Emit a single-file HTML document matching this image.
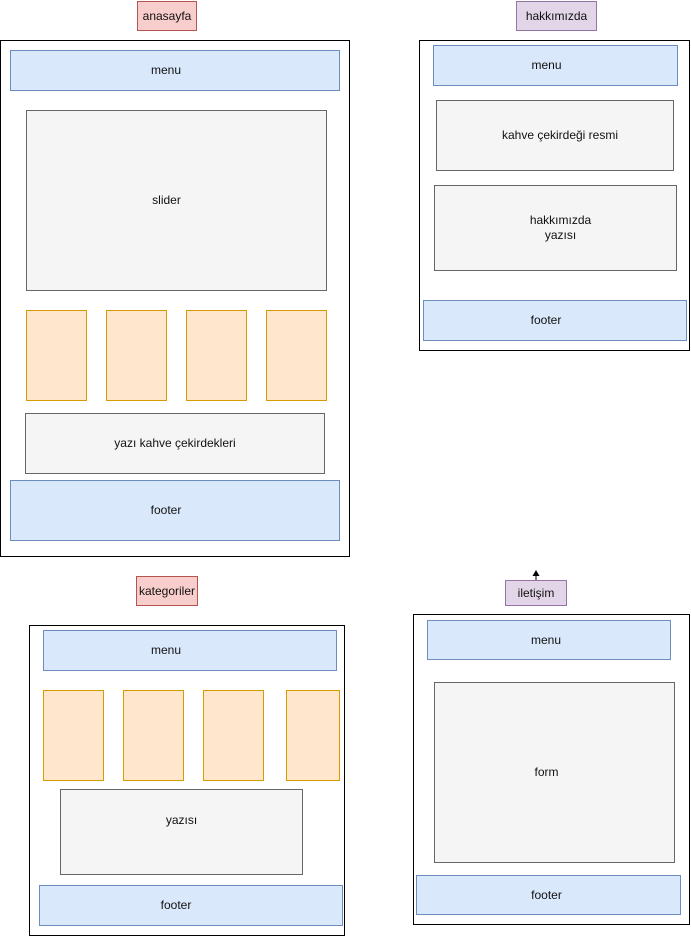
<!DOCTYPE html>
<html><head><meta charset="utf-8"><style>
html,body{margin:0;padding:0;background:#fff;width:691px;height:936px;overflow:hidden;position:relative;font-family:"Liberation Sans",Arial,sans-serif;font-size:12px;color:#111}
.b{position:absolute;box-sizing:border-box;display:flex;align-items:center;justify-content:center;text-align:center;line-height:15px}
.f{border:1px solid #000;background:transparent}
.bl{background:#dae8fc;border:1px solid #6c8ebf}
.gr{background:#f5f5f5;border:1px solid #666}
.or{background:#ffe6cc;border:1px solid #d79b00}
.pk{background:#f8cecc;border:1px solid #b85450}
.pu{background:#e1d5e7;border:1px solid #9673a6}
</style></head><body>
<div class="b pk" style="left:137px;top:1px;width:60px;height:30px">anasayfa</div>
<div class="b f" style="left:0;top:40px;width:350px;height:517px"></div>
<div class="b bl" style="left:10px;top:50px;width:330px;height:41px;padding-right:18px">menu</div>
<div class="b gr" style="left:26px;top:110px;width:301px;height:181px;padding-right:20px">slider</div>
<div class="b or" style="left:26px;top:310px;width:61px;height:91px"></div>
<div class="b or" style="left:106px;top:310px;width:61px;height:91px"></div>
<div class="b or" style="left:186px;top:310px;width:61px;height:91px"></div>
<div class="b or" style="left:266px;top:310px;width:61px;height:91px"></div>
<div class="b gr" style="left:25px;top:413px;width:300px;height:61px">yazı kahve çekirdekleri</div>
<div class="b bl" style="left:10px;top:480px;width:330px;height:61px;padding-right:18px">footer</div>

<div class="b pu" style="left:516px;top:1px;width:81px;height:30px">hakkımızda</div>
<div class="b f" style="left:419px;top:40px;width:271px;height:311px"></div>
<div class="b bl" style="left:433px;top:45px;width:245px;height:41px;padding-right:18px">menu</div>
<div class="b gr" style="left:436px;top:100px;width:238px;height:71px;padding-left:10px">kahve çekirdeği resmi</div>
<div class="b gr" style="left:434px;top:185px;width:243px;height:86px;padding-left:10px">hakkımızda<br>yazısı</div>
<div class="b bl" style="left:423px;top:300px;width:264px;height:41px;padding-right:18px">footer</div>

<div class="b pk" style="left:136px;top:576px;width:62px;height:30px">kategoriler</div>
<div class="b f" style="left:29px;top:625px;width:316px;height:311px"></div>
<div class="b bl" style="left:43px;top:630px;width:294px;height:41px;padding-right:48px">menu</div>
<div class="b or" style="left:43px;top:690px;width:61px;height:91px"></div>
<div class="b or" style="left:123px;top:690px;width:61px;height:91px"></div>
<div class="b or" style="left:203px;top:690px;width:61px;height:91px"></div>
<div class="b or" style="left:286px;top:690px;width:54px;height:91px"></div>
<div class="b gr" style="left:60px;top:789px;width:243px;height:86px;align-items:flex-start;padding-top:23px">yazısı</div>
<div class="b bl" style="left:39px;top:885px;width:304px;height:41px;padding-right:30px">footer</div>

<div class="b pu" style="left:505px;top:580px;width:62px;height:26px">iletişim</div>
<svg style="position:absolute;left:530px;top:568px" width="12" height="14"><line x1="6" y1="12" x2="6" y2="5" stroke="#000"/><polygon points="2.5,8 6,2 9.5,8" fill="#000"/></svg>
<div class="b f" style="left:413px;top:614px;width:277px;height:311px"></div>
<div class="b bl" style="left:427px;top:620px;width:244px;height:40px;padding-right:6px">menu</div>
<div class="b gr" style="left:434px;top:682px;width:241px;height:181px;padding-right:16px">form</div>
<div class="b bl" style="left:416px;top:875px;width:265px;height:40px;padding-right:4px">footer</div>
</body></html>
